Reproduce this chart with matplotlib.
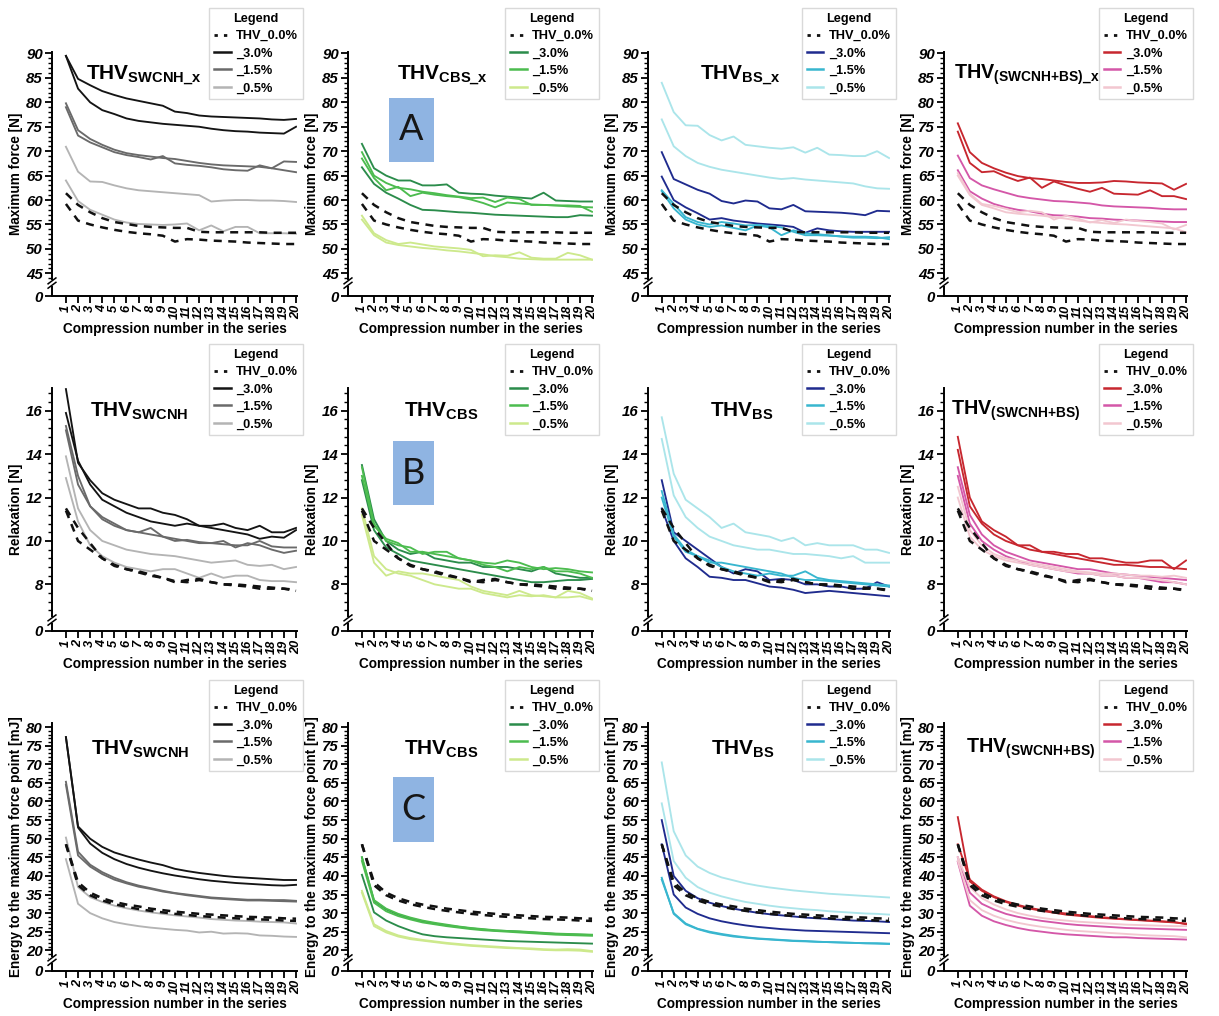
import matplotlib
matplotlib.use('Agg')
import matplotlib.pyplot as plt
from matplotlib.lines import Line2D
from matplotlib.patches import Rectangle

plt.rcParams['font.family'] = ['Liberation Sans', 'DejaVu Sans']
plt.rcParams['mathtext.fontset'] = 'custom'
plt.rcParams['mathtext.rm'] = 'Liberation Sans'
plt.rcParams['mathtext.bf'] = 'Liberation Sans:bold'
plt.rcParams['mathtext.it'] = 'Liberation Sans:italic'

# ---------------- data ----------------
compression = list(range(1, 21))
legend_labels = ['THV_0.0%', '_3.0%', '_1.5%', '_0.5%']

# Row A: Maximum force [N]
f_ref_a = [61.4, 59.0, 57.5, 56.3, 55.5, 55.1, 54.7, 54.5, 54.4, 54.3, 54.3, 53.5, 53.4, 53.4, 53.4, 53.4, 53.4, 53.3, 53.3, 53.3]
f_ref_b = [59.2, 55.8, 55.0, 54.4, 53.9, 53.5, 53.2, 53.0, 52.7, 51.5, 52.0, 51.9, 51.7, 51.6, 51.5, 51.3, 51.2, 51.1, 51.0, 51.0]

f_sw30a = [89.5, 84.8, 83.5, 82.3, 81.5, 80.8, 80.3, 79.8, 79.3, 78.1, 77.8, 77.3, 77.1, 77.0, 76.9, 76.8, 76.7, 76.5, 76.4, 76.6]
f_sw30b = [89.5, 82.8, 80.0, 78.4, 77.6, 76.7, 76.2, 75.9, 75.6, 75.4, 75.2, 75.0, 74.6, 74.3, 74.1, 74.0, 73.8, 73.7, 73.6, 75.0]
f_sw15a = [79.8, 74.3, 72.5, 71.3, 70.3, 69.6, 69.2, 68.9, 68.6, 68.4, 68.0, 67.6, 67.3, 67.1, 67.0, 66.9, 66.8, 66.5, 66.1, 65.7]
f_sw15b = [79.0, 73.2, 71.8, 70.8, 69.8, 69.2, 68.8, 68.3, 69.0, 67.5, 67.2, 67.0, 66.7, 66.3, 66.1, 66.0, 67.1, 66.5, 67.9, 67.8]
f_sw05a = [70.9, 65.8, 63.8, 63.7, 63.0, 62.4, 62.0, 61.8, 61.6, 61.4, 61.2, 61.0, 59.7, 59.9, 60.0, 60.0, 59.9, 59.9, 59.8, 59.6]
f_sw05b = [64.0, 59.8, 58.0, 57.0, 56.0, 55.4, 55.1, 55.0, 54.9, 55.0, 55.2, 53.8, 54.8, 53.6, 54.5, 54.5, 53.2, 53.2, 53.2, 53.1]

f_cbs30a = [71.5, 66.5, 65.0, 64.0, 64.0, 63.0, 63.0, 63.2, 61.5, 61.3, 61.2, 60.9, 60.7, 60.5, 60.3, 61.5, 59.9, 59.8, 59.7, 59.7]
f_cbs30b = [66.7, 63.3, 61.5, 60.3, 59.0, 58.0, 57.9, 57.7, 57.5, 57.4, 57.2, 57.0, 56.9, 56.8, 56.7, 56.6, 56.5, 56.5, 56.9, 56.8]
f_cbs15a = [69.8, 65.0, 63.5, 62.5, 62.2, 61.7, 61.4, 61.0, 60.7, 60.4, 60.5, 59.6, 60.5, 60.2, 59.0, 59.0, 58.9, 58.9, 58.8, 57.6]
f_cbs15b = [68.5, 64.5, 62.0, 62.7, 60.8, 61.5, 61.1, 60.8, 60.6, 60.1, 59.4, 58.5, 59.5, 59.3, 59.1, 59.0, 58.9, 58.7, 58.6, 58.5]
f_cbs05a = [56.8, 53.2, 51.8, 51.0, 51.3, 50.9, 50.5, 50.3, 50.1, 49.8, 48.5, 48.7, 48.6, 49.3, 48.2, 48.0, 48.0, 49.2, 48.7, 47.8]
f_cbs05b = [56.0, 52.8, 51.3, 50.8, 50.5, 50.2, 50.0, 49.7, 49.5, 49.2, 48.9, 48.5, 48.3, 48.0, 47.9, 47.8, 47.8, 47.8, 47.8, 47.8]

f_bs30a = [69.8, 64.3, 63.2, 62.1, 61.3, 59.8, 59.3, 59.9, 59.7, 58.3, 58.1, 59.0, 57.7, 57.6, 57.5, 57.4, 57.2, 56.9, 57.8, 57.7]
f_bs30b = [64.8, 60.0, 58.5, 57.3, 56.0, 56.3, 55.8, 55.5, 55.2, 55.0, 54.8, 54.5, 53.3, 54.2, 53.8, 53.6, 53.5, 53.5, 53.5, 53.5]
f_bs15a = [62.0, 59.2, 56.5, 55.5, 55.0, 55.5, 55.2, 54.8, 54.9, 54.7, 54.4, 53.5, 52.8, 52.8, 52.7, 52.6, 52.5, 52.5, 52.4, 52.0]
f_bs15b = [61.8, 58.3, 56.0, 55.0, 54.5, 54.8, 54.3, 53.8, 54.8, 54.4, 52.8, 53.8, 53.2, 53.0, 52.8, 52.5, 52.3, 52.3, 52.2, 52.4]
f_bs05a = [84.0, 78.0, 75.3, 75.2, 73.3, 72.2, 73.0, 71.3, 71.0, 70.7, 70.5, 70.8, 69.7, 70.7, 69.3, 69.2, 69.0, 69.0, 70.0, 68.6]
f_bs05b = [76.5, 71.0, 69.0, 67.6, 66.8, 66.2, 65.8, 65.4, 65.0, 64.6, 64.3, 64.5, 64.2, 64.0, 63.8, 63.6, 63.4, 62.8, 62.4, 62.3]

f_swbs30a = [75.7, 69.8, 67.6, 66.5, 65.6, 64.9, 64.5, 64.3, 64.0, 63.7, 63.5, 63.5, 63.6, 63.9, 63.8, 63.6, 63.5, 63.4, 62.1, 63.3]
f_swbs30b = [74.0, 67.6, 65.7, 65.9, 64.8, 63.9, 64.6, 62.5, 63.8, 63.0, 62.3, 61.7, 62.5, 61.3, 61.2, 61.1, 62.0, 60.8, 60.8, 60.2]
f_swbs15a = [69.1, 64.5, 63.0, 62.2, 61.5, 60.8, 60.4, 60.1, 59.8, 59.7, 59.5, 59.3, 58.9, 58.7, 58.6, 58.5, 58.4, 58.2, 58.1, 58.1]
f_swbs15b = [66.1, 61.8, 60.3, 59.2, 58.5, 58.0, 57.7, 57.2, 56.9, 56.8, 56.6, 56.3, 56.2, 56.0, 55.9, 55.8, 55.7, 55.6, 55.5, 55.5]
f_swbs05a = [65.5, 61.3, 59.2, 58.8, 58.2, 57.5, 57.8, 57.5, 56.0, 56.8, 56.2, 55.4, 55.9, 55.3, 56.0, 55.7, 55.5, 55.2, 54.0, 54.9]
f_swbs05b = [65.0, 61.0, 59.0, 58.3, 57.5, 57.2, 57.0, 56.8, 56.5, 56.2, 55.8, 55.5, 55.3, 55.1, 55.0, 54.8, 54.6, 54.4, 54.2, 53.4]

# Row B: Relaxation [N]
r_ref_a = [11.5, 10.6, 9.9, 9.2, 8.9, 8.7, 8.6, 8.45, 8.3, 8.1, 8.2, 8.25, 8.1, 8.0, 8.0, 7.95, 7.9, 7.85, 7.8, 7.75]
r_ref_b = [11.4, 10.0, 9.6, 9.2, 8.85, 8.7, 8.55, 8.4, 8.3, 8.15, 8.1, 8.2, 8.1, 8.0, 7.95, 7.9, 7.8, 7.8, 7.8, 7.7]

r_sw30a = [17.0, 13.6, 12.8, 12.2, 11.9, 11.7, 11.5, 11.5, 11.3, 11.2, 11.0, 10.7, 10.7, 10.8, 10.6, 10.5, 10.7, 10.4, 10.4, 10.6]
r_sw30b = [15.9, 13.7, 12.6, 11.9, 11.6, 11.3, 11.1, 10.9, 10.8, 10.7, 10.8, 10.7, 10.6, 10.5, 10.4, 10.3, 10.1, 10.2, 10.15, 10.5]
r_sw15a = [15.3, 13.0, 11.6, 11.1, 10.8, 10.5, 10.4, 10.6, 10.2, 10.1, 10.0, 9.9, 9.9, 10.0, 9.7, 9.9, 9.8, 9.6, 9.45, 9.55]
r_sw15b = [15.1, 12.6, 11.6, 11.0, 10.7, 10.5, 10.4, 10.3, 10.2, 10.0, 10.05, 9.95, 9.9, 9.85, 9.8, 9.8, 10.0, 9.75, 9.7, 9.7]
r_sw05a = [13.9, 11.5, 10.5, 10.0, 9.8, 9.6, 9.5, 9.4, 9.35, 9.3, 9.2, 9.1, 9.0, 9.05, 9.1, 8.9, 8.85, 8.9, 8.7, 8.8]
r_sw05b = [12.9, 10.9, 9.8, 9.3, 9.0, 8.8, 8.7, 8.6, 8.7, 8.7, 8.5, 8.3, 8.5, 8.3, 8.4, 8.4, 8.2, 8.15, 8.15, 8.1]

r_cbs30a = [13.5, 11.0, 10.0, 9.6, 9.4, 9.5, 9.2, 9.1, 9.0, 9.0, 8.8, 8.8, 8.8, 8.7, 8.6, 8.8, 8.5, 8.4, 8.3, 8.3]
r_cbs30b = [12.8, 10.5, 9.7, 9.4, 9.1, 9.0, 8.9, 8.8, 8.7, 8.6, 8.5, 8.4, 8.3, 8.2, 8.1, 8.1, 8.15, 8.2, 8.2, 8.25]
r_cbs15a = [13.4, 10.8, 10.0, 9.8, 9.7, 9.4, 9.5, 9.5, 9.2, 9.1, 9.0, 8.95, 9.1, 9.0, 8.8, 8.7, 8.75, 8.7, 8.6, 8.55]
r_cbs15b = [13.0, 10.7, 10.1, 9.9, 9.5, 9.5, 9.4, 9.3, 9.2, 9.1, 8.9, 8.8, 8.6, 8.8, 8.7, 8.8, 8.6, 8.6, 8.5, 8.3]
r_cbs05a = [11.5, 9.3, 8.7, 8.5, 8.4, 8.2, 8.0, 7.9, 7.8, 7.8, 7.6, 7.5, 7.4, 7.5, 7.45, 7.5, 7.4, 7.4, 7.45, 7.3]
r_cbs05b = [11.2, 9.0, 8.4, 8.6, 8.5, 8.5, 8.4, 8.3, 8.2, 7.9, 7.7, 7.6, 7.5, 7.7, 7.5, 7.45, 7.4, 7.7, 7.6, 7.35]

r_bs30a = [12.8, 10.4, 10.0, 9.6, 9.2, 8.8, 8.5, 8.7, 8.6, 8.2, 8.25, 8.2, 8.0, 8.0, 7.9, 7.9, 7.8, 7.8, 8.1, 7.9]
r_bs30b = [11.5, 10.0, 9.2, 8.8, 8.35, 8.3, 8.2, 8.2, 8.05, 7.9, 7.85, 7.75, 7.6, 7.65, 7.7, 7.65, 7.6, 7.55, 7.5, 7.45]
r_bs15a = [12.3, 10.3, 9.6, 9.3, 9.1, 8.8, 8.6, 8.5, 8.4, 8.5, 8.4, 8.4, 8.6, 8.3, 8.2, 8.15, 8.1, 8.05, 8.0, 7.95]
r_bs15b = [12.0, 10.2, 9.5, 9.3, 9.0, 9.0, 8.9, 8.8, 8.7, 8.6, 8.5, 8.3, 8.2, 8.2, 8.15, 8.1, 8.05, 8.0, 7.95, 7.9]
r_bs05a = [15.7, 13.1, 11.9, 11.5, 11.1, 10.6, 10.8, 10.4, 10.3, 10.2, 10.0, 10.15, 9.8, 9.9, 9.8, 9.8, 9.8, 9.6, 9.6, 9.45]
r_bs05b = [14.7, 12.1, 11.1, 10.6, 10.2, 10.0, 9.8, 9.7, 9.6, 9.6, 9.5, 9.4, 9.4, 9.35, 9.3, 9.2, 9.3, 9.0, 9.0, 9.0]

r_swbs30a = [14.8, 12.0, 10.9, 10.5, 10.2, 9.8, 9.8, 9.5, 9.5, 9.4, 9.4, 9.2, 9.2, 9.1, 9.0, 9.0, 9.1, 9.1, 8.7, 9.1]
r_swbs30b = [14.2, 11.6, 10.8, 10.3, 10.0, 9.8, 9.6, 9.5, 9.4, 9.3, 9.2, 9.1, 9.0, 8.9, 8.9, 8.85, 8.8, 8.8, 8.75, 8.7]
r_swbs15a = [13.4, 11.2, 10.3, 9.8, 9.5, 9.3, 9.1, 9.0, 8.9, 8.8, 8.7, 8.7, 8.6, 8.5, 8.45, 8.4, 8.35, 8.3, 8.25, 8.2]
r_swbs15b = [13.0, 10.8, 10.0, 9.6, 9.3, 9.1, 8.9, 8.8, 8.7, 8.6, 8.5, 8.5, 8.4, 8.4, 8.3, 8.3, 8.2, 8.1, 8.1, 8.0]
r_swbs05a = [12.5, 10.5, 9.8, 9.4, 9.2, 9.1, 9.0, 8.9, 8.8, 8.7, 8.6, 8.55, 8.5, 8.5, 8.45, 8.4, 8.4, 8.35, 8.4, 8.3]
r_swbs05b = [12.0, 10.2, 9.6, 9.3, 9.1, 9.0, 8.9, 8.8, 8.7, 8.6, 8.55, 8.5, 8.4, 8.4, 8.3, 8.3, 8.25, 8.2, 8.1, 8.0]

# Row C: Energy to the maximum force point [mJ]
e_ref_a = [48.5, 38.3, 35.5, 34.0, 33.0, 32.3, 31.8, 31.2, 30.8, 30.4, 30.1, 29.8, 29.6, 29.4, 29.2, 29.0, 28.9, 28.8, 28.6, 28.5]
e_ref_b = [48.5, 37.5, 34.8, 33.4, 32.4, 31.7, 31.1, 30.6, 30.2, 29.8, 29.5, 29.2, 29.0, 28.8, 28.6, 28.4, 28.3, 28.2, 28.0, 27.9]

e_sw30a = [77.3, 53.3, 50.0, 47.8, 46.3, 45.3, 44.4, 43.6, 42.9, 41.9, 41.3, 40.8, 40.4, 40.0, 39.7, 39.5, 39.3, 39.1, 38.9, 38.9]
e_sw30b = [77.3, 53.0, 48.7, 46.2, 44.5, 43.2, 42.2, 41.4, 40.7, 40.1, 39.6, 39.1, 38.7, 38.4, 38.1, 37.9, 37.7, 37.5, 37.4, 37.6]
e_sw15a = [65.3, 46.5, 43.0, 41.0, 39.5, 38.3, 37.4, 36.7, 36.0, 35.4, 35.0, 34.6, 34.2, 34.0, 33.8, 33.6, 33.6, 33.5, 33.5, 33.3]
e_sw15b = [64.5, 45.5, 42.5, 40.5, 39.0, 38.0, 37.1, 36.5, 35.8, 35.3, 34.8, 34.4, 34.0, 33.8, 33.6, 33.4, 33.4, 33.3, 33.2, 33.1]
e_sw05a = [50.3, 37.0, 34.3, 33.0, 32.0, 31.3, 30.7, 30.2, 29.8, 29.4, 29.1, 28.8, 28.4, 28.2, 28.0, 27.9, 27.7, 27.6, 27.5, 27.2]
e_sw05b = [44.5, 32.5, 30.0, 28.6, 27.6, 27.0, 26.5, 26.1, 25.8, 25.5, 25.3, 24.8, 25.0, 24.5, 24.6, 24.5, 24.0, 23.9, 23.7, 23.6]

e_cbs30a = [45.0, 33.3, 31.0, 29.6, 28.6, 27.8, 27.2, 26.7, 26.3, 25.9, 25.6, 25.3, 25.2, 25.0, 24.8, 24.6, 24.4, 24.3, 24.2, 24.1]
e_cbs30b = [40.3, 30.2, 28.0, 26.5, 25.3, 24.3, 23.8, 23.5, 23.3, 23.1, 22.9, 22.7, 22.5, 22.4, 22.3, 22.2, 22.1, 22.0, 21.9, 21.8]
e_cbs15a = [45.0, 33.5, 31.2, 29.8, 28.8, 28.0, 27.4, 26.9, 26.4, 26.0, 25.7, 25.4, 25.2, 25.1, 24.9, 24.7, 24.5, 24.4, 24.3, 24.2]
e_cbs15b = [44.0, 32.8, 30.5, 29.2, 28.3, 27.5, 27.0, 26.5, 26.1, 25.7, 25.4, 25.2, 25.0, 24.8, 24.6, 24.4, 24.2, 24.1, 24.0, 23.9]
e_cbs05a = [35.5, 26.5, 24.8, 23.7, 23.0, 22.6, 22.2, 21.8, 21.5, 21.2, 21.0, 20.8, 20.6, 20.5, 20.3, 20.1, 20.0, 20.0, 19.9, 19.6]
e_cbs05b = [36.0, 27.0, 25.2, 24.0, 23.3, 22.8, 22.4, 22.0, 21.7, 21.4, 21.2, 21.0, 20.8, 20.6, 20.5, 20.3, 20.2, 20.3, 20.2, 19.8]

e_bs30a = [55.0, 40.0, 36.0, 34.0, 32.8, 31.9, 31.2, 30.6, 30.1, 29.7, 29.4, 29.1, 28.8, 28.6, 28.4, 28.2, 28.0, 27.9, 27.8, 27.6]
e_bs30b = [48.5, 35.0, 31.5, 29.8, 28.6, 27.8, 27.2, 26.7, 26.3, 26.0, 25.7, 25.5, 25.3, 25.2, 25.1, 25.0, 24.9, 24.8, 24.7, 24.6]
e_bs15a = [39.5, 29.8, 27.0, 25.7, 24.8, 24.2, 23.7, 23.4, 23.1, 22.9, 22.7, 22.5, 22.4, 22.3, 22.2, 22.1, 22.0, 21.9, 21.8, 21.7]
e_bs15b = [39.0, 30.0, 27.2, 25.8, 25.0, 24.4, 23.9, 23.5, 23.2, 23.0, 22.8, 22.6, 22.5, 22.3, 22.2, 22.1, 22.0, 21.9, 21.9, 21.8]
e_bs05a = [70.5, 52.0, 45.5, 42.5, 40.8, 39.6, 38.8, 38.0, 37.4, 36.9, 36.5, 36.1, 35.8, 35.5, 35.2, 35.0, 34.8, 34.6, 34.4, 34.2]
e_bs05b = [59.5, 44.0, 39.5, 37.0, 35.5, 34.5, 33.7, 33.0, 32.5, 32.0, 31.6, 31.3, 31.0, 30.8, 30.5, 30.3, 30.1, 29.9, 29.8, 29.6]

e_swbs30a = [55.8, 38.5, 36.0, 34.3, 33.0, 32.0, 31.2, 30.6, 30.1, 29.6, 29.3, 29.0, 28.7, 28.5, 28.3, 28.1, 27.9, 27.7, 27.5, 27.2]
e_swbs30b = [48.5, 39.0, 36.3, 34.5, 33.2, 32.2, 31.4, 30.8, 30.3, 29.9, 29.5, 29.2, 28.9, 28.6, 28.4, 28.2, 28.0, 27.8, 27.6, 27.0]
e_swbs15a = [43.8, 32.0, 29.3, 27.8, 26.8, 26.0, 25.4, 25.0, 24.6, 24.3, 24.1, 23.9, 23.7, 23.5, 23.5, 23.3, 23.2, 23.1, 23.0, 22.9]
e_swbs15b = [45.0, 35.5, 32.5, 31.0, 29.8, 29.0, 28.4, 27.9, 27.5, 27.1, 26.8, 26.6, 26.4, 26.2, 26.0, 25.9, 25.8, 25.7, 25.6, 25.5]
e_swbs05a = [45.0, 37.0, 34.0, 32.3, 31.0, 30.0, 29.3, 28.7, 28.3, 28.0, 27.7, 27.5, 27.3, 27.1, 26.9, 26.8, 26.7, 26.6, 26.5, 26.5]
e_swbs05b = [44.0, 33.5, 30.8, 29.3, 28.2, 27.4, 26.8, 26.3, 25.9, 25.5, 25.2, 25.0, 24.8, 24.6, 24.4, 24.2, 24.0, 23.9, 23.8, 23.5]

# ---------------- styling / layout ----------------
palettes = [
    ['#141414', '#6a6a6a', '#b4b4b4'],
    ['#2b8c4b', '#4cbc4f', '#cde98c'],
    ['#1f2b8e', '#38b6cf', '#abe5ea'],
    ['#c7272f', '#d457a8', '#f2c7d0'],
]
subs = [['SWCNH\\_x', 'CBS\\_x', 'BS\\_x', '(SWCNH{+}BS)\\_x'],
        ['SWCNH', 'CBS', 'BS', '(SWCNH{+}BS)'],
        ['SWCNH', 'CBS', 'BS', '(SWCNH{+}BS)']]
title_pos = [[(0.14, 0.905), (0.20, 0.905), (0.215, 0.905), (0.04, 0.905)],
             [(0.155, 0.905), (0.23, 0.905), (0.255, 0.905), (0.03, 0.905)],
             [(0.16, 0.895), (0.23, 0.895), (0.26, 0.895), (0.09, 0.895)]]
title_size = [[15, 15, 15, 14.2], [15, 15, 15, 14.2], [15, 15, 15, 14.2]]

rows_data = [
    [(f_sw30a, f_sw30b, f_sw15a, f_sw15b, f_sw05a, f_sw05b),
     (f_cbs30a, f_cbs30b, f_cbs15a, f_cbs15b, f_cbs05a, f_cbs05b),
     (f_bs30a, f_bs30b, f_bs15a, f_bs15b, f_bs05a, f_bs05b),
     (f_swbs30a, f_swbs30b, f_swbs15a, f_swbs15b, f_swbs05a, f_swbs05b)],
    [(r_sw30a, r_sw30b, r_sw15a, r_sw15b, r_sw05a, r_sw05b),
     (r_cbs30a, r_cbs30b, r_cbs15a, r_cbs15b, r_cbs05a, r_cbs05b),
     (r_bs30a, r_bs30b, r_bs15a, r_bs15b, r_bs05a, r_bs05b),
     (r_swbs30a, r_swbs30b, r_swbs15a, r_swbs15b, r_swbs05a, r_swbs05b)],
    [(e_sw30a, e_sw30b, e_sw15a, e_sw15b, e_sw05a, e_sw05b),
     (e_cbs30a, e_cbs30b, e_cbs15a, e_cbs15b, e_cbs05a, e_cbs05b),
     (e_bs30a, e_bs30b, e_bs15a, e_bs15b, e_bs05a, e_bs05b),
     (e_swbs30a, e_swbs30b, e_swbs15a, e_swbs15b, e_swbs05a, e_swbs05b)],
]
refs = [(f_ref_a, f_ref_b), (r_ref_a, r_ref_b), (e_ref_a, e_ref_b)]
ylabels = ['Maximum force [N]', 'Relaxation [N]', 'Energy to the maximum force point [mJ]']
ylims = [(40.36, 90.3), (5.85, 17.05), (14.44, 81.1)]
major = [list(range(45, 91, 5)), [8, 10, 12, 14, 16], list(range(20, 81, 5))]
minor = [list(range(43, 91)), [6.8 + 0.4 * i for i in range(26)], list(range(18, 81))]
break_frac = [0.053, 0.045, 0.044]

W, H = 1219, 1016
fig = plt.figure(figsize=(W / 100, H / 100), dpi=100)
col_left = [52, 348, 648, 944]
col_w = [245, 245, 242, 243]
row_tb = [(52, 296), (388, 631), (723, 971)]
leg_top = [8, 344, 680]

for r in range(3):
    top, bot = row_tb[r]
    for c in range(4):
        ax = fig.add_axes([col_left[c] / W, 1 - bot / H, col_w[c] / W, (bot - top) / H])
        cols = palettes[c]
        s = rows_data[r][c]
        for k in range(3):
            ax.plot(compression, s[2 * k], color=cols[k], lw=1.35, zorder=2)
            ax.plot(compression, s[2 * k + 1], color=cols[k], lw=1.35, zorder=2)
        for ref in refs[r]:
            ax.plot(compression, ref, color='#111111', lw=1.8, ls=(0, (3.2, 2.6)), zorder=3)

        ax.set_xlim(-0.15, 20.08)
        ax.set_ylim(*ylims[r])
        for sp in ['top', 'right']:
            ax.spines[sp].set_visible(False)
        for sp in ['left', 'bottom']:
            ax.spines[sp].set_linewidth(1.4)
        ax.set_xticks(compression)
        ax.set_xticklabels([str(v) for v in compression], rotation=90,
                           fontsize=9.2, fontweight='bold', fontstyle='italic')
        ax.set_yticks([ylims[r][0]] + major[r])
        ax.set_yticklabels(['0'] + [str(v) for v in major[r]],
                           fontsize=10.8, fontweight='bold', fontstyle='italic')
        ax.set_yticks(minor[r], minor=True)
        ax.tick_params(axis='both', which='major', length=5, width=1.3, pad=1.5)
        ax.tick_params(axis='y', which='minor', length=2.6, width=1.0)
        ax.set_xlabel('Compression number in the series', fontsize=9.8,
                      fontweight='bold', labelpad=2)
        ax.set_ylabel(ylabels[r], fontsize=9.8, fontweight='bold', labelpad=2)

        # axis break mark
        yb = break_frac[r]
        ax.add_patch(Rectangle((-0.012, yb - 0.012), 0.024, 0.024, transform=ax.transAxes,
                               facecolor='white', edgecolor='none', clip_on=False, zorder=5))
        for dy in (-0.009, 0.009):
            ax.plot([-0.016, 0.016], [yb + dy - 0.012, yb + dy + 0.012], color='black',
                    lw=1.1, transform=ax.transAxes, clip_on=False, zorder=6)

        # panel title
        tx, ty = title_pos[r][c]
        ax.text(tx, ty, r'$\mathbf{THV_{' + subs[r][c] + r'}}$', transform=ax.transAxes,
                fontsize=title_size[r][c], va='center', ha='left', zorder=7)

        # legend
        handles = [Line2D([], [], color='#111111', lw=2.0, ls=(0, (1.2, 2.2)))] + \
                  [Line2D([], [], color=cols[k], lw=1.8) for k in range(3)]
        leg = ax.legend(handles, legend_labels, title='Legend', loc='upper right',
                        bbox_to_anchor=(1.025, (bot - leg_top[r]) / (bot - top)),
                        borderaxespad=0, title_fontproperties={'weight': 'bold', 'size': 9.2},
                        prop={'weight': 'bold', 'size': 9.2}, frameon=True, fancybox=False,
                        edgecolor='#d9d9d9', handlelength=1.3, handletextpad=0.45,
                        labelspacing=0.42, borderpad=0.38, framealpha=1)
        leg.get_frame().set_linewidth(1.0)
        leg.set_zorder(8)

# panel letters A, B, C
box_px = [(389, 98, 434, 162), (393, 441, 434, 505), (393, 777, 434, 842)]
for letter, (x0, y0, x1, y1) in zip(['A', 'B', 'C'], box_px):
    fig.add_artist(Rectangle((x0 / W, 1 - y1 / H), (x1 - x0) / W, (y1 - y0) / H,
                             transform=fig.transFigure, facecolor='#8fb4e2', edgecolor='none'))
    fig.text((x0 + x1) / 2 / W, 1 - (y0 + y1) / 2 / H, letter, fontsize=26,
             family=['Lato', 'DejaVu Sans'], color='#161616', ha='center', va='center')

fig.savefig('out.png', dpi=100, facecolor='white')
